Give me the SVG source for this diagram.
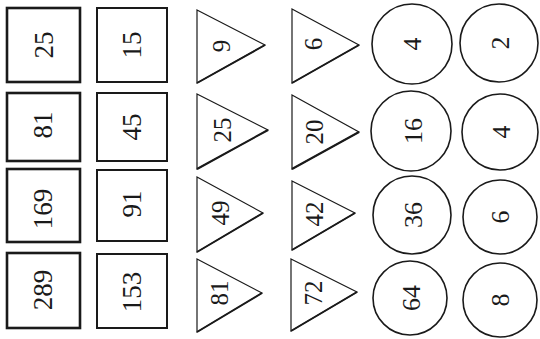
<svg xmlns="http://www.w3.org/2000/svg" width="540" height="339" viewBox="0 0 540 339">
<style>
.sq1{fill:#fff;stroke:#1a1a1a;stroke-width:2.6}
.sq2{fill:#fff;stroke:#1a1a1a;stroke-width:2}
.tri{fill:#fff;stroke:#1a1a1a;stroke-width:1.2;stroke-linejoin:miter}
.edge{stroke:#1a1a1a;stroke-width:2;fill:none}
.cir{fill:#fff;stroke:#1a1a1a;stroke-width:1.6}
text{font-family:"Liberation Serif","DejaVu Serif",serif;fill:#1a1a1a;text-anchor:middle;dominant-baseline:central}
.t1{font-size:27px}
.t2{font-size:25px}
.t3{font-size:26px}
</style>
<rect width="540" height="339" fill="#fff"/>
<g id="squares-col1">
<g id="sq-25"><rect class="sq1" x="7" y="8" width="73" height="74"/><text class="t1" transform="translate(44,45) rotate(-90)">25</text></g>
<g id="sq-81"><rect class="sq1" x="7" y="93" width="73" height="68"/><text class="t1" transform="translate(43,125) rotate(-90)">81</text></g>
<g id="sq-169"><rect class="sq1" x="7" y="169" width="73" height="73"/><text class="t1" transform="translate(43,209) rotate(-90)">169</text></g>
<g id="sq-289"><rect class="sq1" x="7" y="253" width="73" height="75"/><text class="t1" transform="translate(43,290) rotate(-90)">289</text></g>
</g>
<g id="squares-col2">
<g id="sq-15"><rect class="sq2" x="97" y="8" width="70" height="74"/><text class="t1" transform="translate(132,45) rotate(-90)">15</text></g>
<g id="sq-45"><rect class="sq2" x="97" y="93" width="70" height="68"/><text class="t1" transform="translate(132,127) rotate(-90)">45</text></g>
<g id="sq-91"><rect class="sq2" x="97" y="170" width="70" height="71"/><text class="t1" transform="translate(132,204) rotate(-90)">91</text></g>
<g id="sq-153"><rect class="sq2" x="97" y="254" width="70" height="74"/><text class="t1" transform="translate(132,292) rotate(-90)">153</text></g>
</g>
<g id="triangles-col1">
<g id="tri-9"><polygon class="tri" points="197,10 265,45 197,83"/><line class="edge" x1="197" y1="83" x2="265" y2="45"/><text class="t2" transform="translate(221,46) rotate(-90)">9</text></g>
<g id="tri-25"><polygon class="tri" points="197,94 268,130 197,169"/><line class="edge" x1="197" y1="169" x2="268" y2="130"/><text class="t2" transform="translate(222,130) rotate(-90)">25</text></g>
<g id="tri-49"><polygon class="tri" points="197,177 263,213 197,252"/><line class="edge" x1="197" y1="252" x2="263" y2="213"/><text class="t2" transform="translate(220,213) rotate(-90)">49</text></g>
<g id="tri-81"><polygon class="tri" points="197,259 262,293 197,332"/><line class="edge" x1="197" y1="332" x2="262" y2="293"/><text class="t2" transform="translate(219,293) rotate(-90)">81</text></g>
</g>
<g id="triangles-col2">
<g id="tri-6"><polygon class="tri" points="292,9 359,45 292,83"/><line class="edge" x1="292" y1="83" x2="359" y2="45"/><text class="t2" transform="translate(313,44) rotate(-90)">6</text></g>
<g id="tri-20"><polygon class="tri" points="292,95 359,132 292,169"/><line class="edge" x1="292" y1="169" x2="359" y2="132"/><text class="t2" transform="translate(314,132) rotate(-90)">20</text></g>
<g id="tri-42"><polygon class="tri" points="292,181 355,213 292,250"/><line class="edge" x1="292" y1="250" x2="355" y2="213"/><text class="t2" transform="translate(314,214) rotate(-90)">42</text></g>
<g id="tri-72"><polygon class="tri" points="291,259 357,292 291,331"/><line class="edge" x1="291" y1="331" x2="357" y2="292"/><text class="t2" transform="translate(313,293) rotate(-90)">72</text></g>
</g>
<g id="circles-col1">
<g id="c-4a"><circle class="cir" cx="412" cy="44" r="40"/><text class="t3" transform="translate(412,44) rotate(-90)">4</text></g>
<g id="c-16"><circle class="cir" cx="411" cy="131" r="40"/><text class="t3" transform="translate(413,131) rotate(-90)">16</text></g>
<g id="c-36"><circle class="cir" cx="412" cy="215" r="39"/><text class="t3" transform="translate(413,215) rotate(-90)">36</text></g>
<g id="c-64"><circle class="cir" cx="410" cy="298" r="37"/><text class="t3" transform="translate(411,298) rotate(-90)">64</text></g>
</g>
<g id="circles-col2">
<g id="c-2"><circle class="cir" cx="499" cy="43" r="39"/><text class="t3" transform="translate(500,43) rotate(-90)">2</text></g>
<g id="c-4b"><circle class="cir" cx="500" cy="132" r="38"/><text class="t3" transform="translate(501,132) rotate(-90)">4</text></g>
<g id="c-6"><circle class="cir" cx="500" cy="217" r="37"/><text class="t3" transform="translate(500,217) rotate(-90)">6</text></g>
<g id="c-8"><circle class="cir" cx="500" cy="300" r="37"/><text class="t3" transform="translate(500,300) rotate(-90)">8</text></g>
</g>
<g id="connectors"/>
</svg>
